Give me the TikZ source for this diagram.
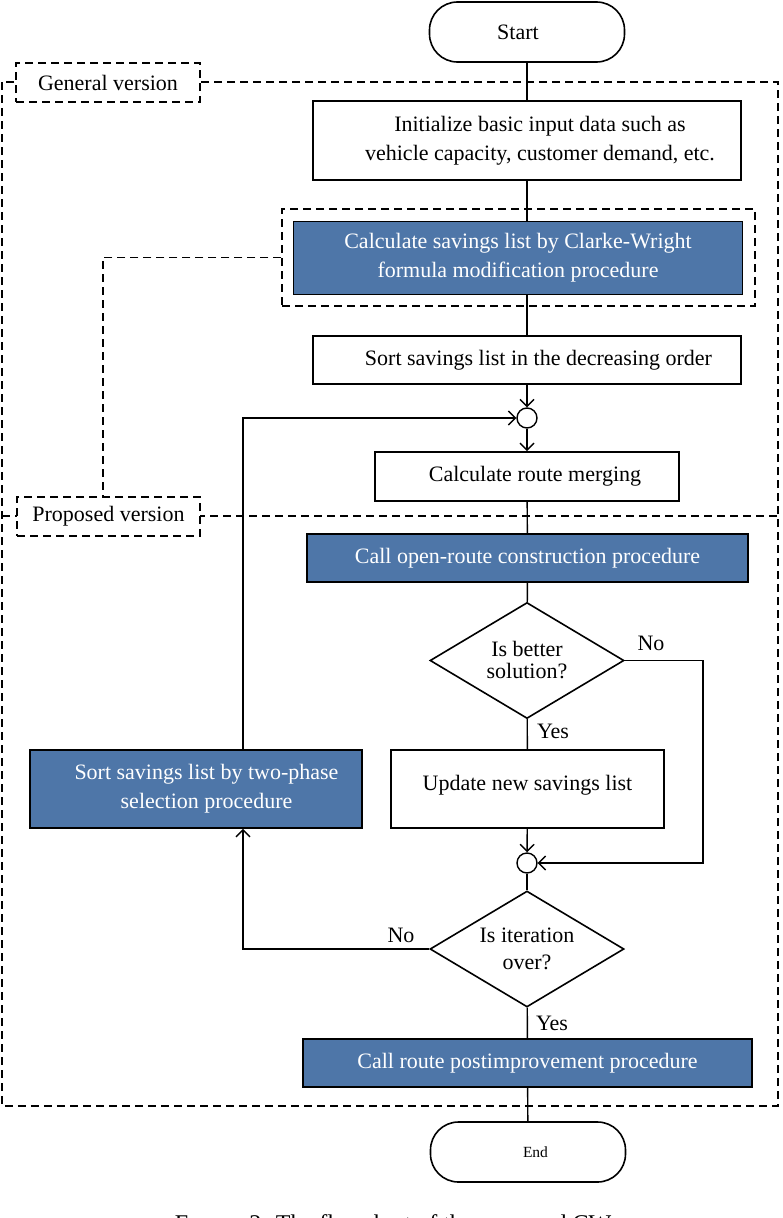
\documentclass[tikz,border=0pt]{standalone}
\usepackage{fontspec}
\setmainfont{Liberation Serif}
\usetikzlibrary{shapes.geometric, arrows.meta}
\definecolor{procblue}{HTML}{4E76A8}
\begin{document}
\begin{tikzpicture}[x=1pt, y=-1pt, line width=1.4pt,
  every node/.style={font=\fontsize{22}{29}\selectfont},
  >={Straight Barb[length=7pt, width=14pt]},
  box/.style={draw, rectangle, line width=1.6pt, inner sep=0pt, align=center},
  bluebox/.style={box, fill=procblue, text=white},
  term/.style={draw, rectangle, rounded corners=28pt, line width=1.6pt, inner sep=0pt, minimum width=195pt, minimum height=60pt},
  decision/.style={draw, diamond, aspect=1.68, inner sep=0pt, align=center, line width=1.6pt, minimum width=194pt, minimum height=116pt},
  junction/.style={draw, circle, inner sep=0pt, minimum size=20pt},
  dashline/.style={dash pattern=on 8pt off 5pt, line width=1.5pt},
  tagbox/.style={draw, dashline, fill=white, inner sep=0pt, minimum width=184pt, minimum height=39pt}]
\useasboundingbox (0,0) rectangle (782,1218);
% dashed frame of the two versions
\draw[dashline] (2,82) rectangle (778,1106);
\draw[dashline] (2,516) -- (778,516);
\node[term] (start) at (527,32) {Start\hspace*{18pt}};
\node[box, minimum width=428pt, minimum height=79pt] (init) at (527,140.5) {\hspace*{26pt}Initialize basic input data such as\\\hspace*{26pt}vehicle capacity, customer demand, etc.};
\node[draw, dashline, minimum width=473pt, minimum height=97pt] (savdash) at (518.5,257.5) {};
\node[bluebox, minimum width=449pt, minimum height=73pt] (sav) at (518,258) {Calculate savings list by Clarke-Wright\\formula modification procedure};
\node[box, minimum width=428pt, minimum height=48pt] (sort) at (527,360) {\hspace*{23pt}Sort savings list in the decreasing order};
\node[junction] (c1) at (527,418) {};
\node[box, minimum width=304pt, minimum height=49pt] (merge) at (527,476.5) {\hspace*{16pt}Calculate route merging};
\node[bluebox, minimum width=441pt, minimum height=48pt] (open) at (527.5,558) {Call open-route construction procedure};
\node[decision, font=\fontsize{22}{22}\selectfont] (d1) at (527,660.5) {Is better\\solution?};
\node[box, minimum width=273pt, minimum height=78pt, text depth=13pt] (update) at (527.5,789) {Update new savings list};
\node[bluebox, minimum width=332pt, minimum height=78pt] (two) at (196,789) {\hspace*{21pt}Sort savings list by two-phase\\\hspace*{21pt}selection procedure};
\node[junction] (c2) at (527,863) {};
\node[decision, font=\fontsize{22}{27}\selectfont] (d2) at (527,949) {Is iteration\\over?};
\node[bluebox, minimum width=449pt, minimum height=48pt] (post) at (527.5,1063) {Call route postimprovement procedure};
\node[term, font=\fontsize{15.5}{18}\selectfont] (end) at (528,1152) {\hspace*{15pt}End};
% version tags
\node[tagbox] (gen) at (108,82.5) {General version};
\node[tagbox, minimum width=183pt] (prop) at (108.5,516.5) {Proposed version};
\draw[dashline] (savdash.west) -| ([xshift=-5.5pt]prop.north);
% branch labels
\node (no1) at (651,643) {No};
\node (yes1) at (553,731) {Yes};
\node (no2) at (401,935) {No};
\node (yes2) at (552,1023) {Yes};
\coordinate (skip) at (703,660.5);
\coordinate (back) at (243,949);
% connectors
\draw (start) -- (init);
\draw (init.south) -- (init.south |- sav.north);
\draw (init.south |- sav.south) -- (sort);
\draw[->] (sort) -- (c1);
\draw[->] (c1) -- (merge);
\draw (merge) -- (open);
\draw (open) -- (d1);
\draw (d1) -- (update);
\draw[->] (update) -- (c2);
\draw[->] (d1.east) -- (skip) |- (c2.east);
\draw (c2) -- (d2);
\draw (d2) -- (post);
\draw (post) -- (end);
\draw[->] (d2.west) -- (back) -- (back |- two.south);
\draw[->] (back |- two.north) |- (c1.west);
\node[anchor=north] (caption) at (395,1211) {\fontsize{24}{28}\selectfont F{\fontsize{18}{21}\selectfont IGURE} 2: The flowchart of the proposed CW.};
\end{tikzpicture}
\end{document}
